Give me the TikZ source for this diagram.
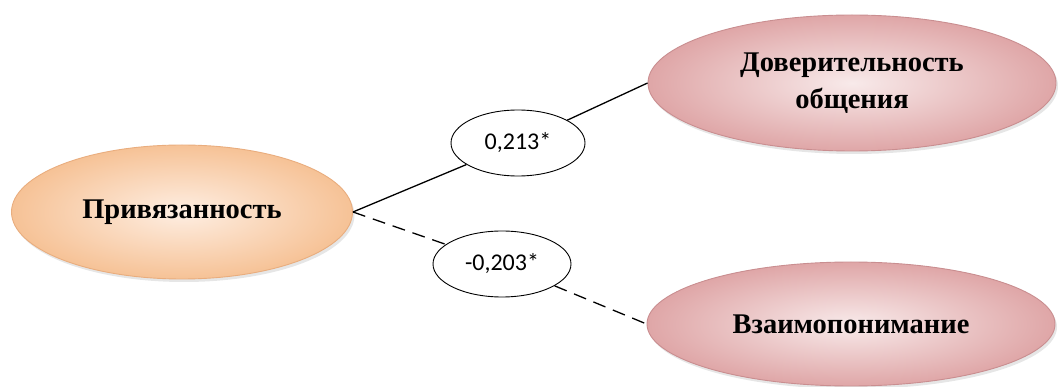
\documentclass[tikz,border=0pt]{standalone}
\usepackage{fontspec}
\setmainfont{Liberation Serif}
\newfontfamily\lblfont{Carlito}
\usetikzlibrary{shapes.geometric,shadows}
\definecolor{orIn}{HTML}{FEEEE2}
\definecolor{orOut}{HTML}{F6C296}
\definecolor{orLine}{HTML}{E9AD7E}
\definecolor{pkIn}{HTML}{F8EAEA}
\definecolor{pkOut}{HTML}{DFA6A7}
\definecolor{pkLine}{HTML}{C98E90}
\tikzset{
  x=1pt, y=-1pt,
  bigell/.style={ellipse, inner sep=0pt, font=\fontsize{28.5}{32}\selectfont\bfseries, align=center,
    drop shadow={shadow xshift=2pt, shadow yshift=-3pt, opacity=0.2}},
  orell/.style={bigell, draw=orLine, line width=0.9pt, inner color=orIn, outer color=orOut},
  pkell/.style={bigell, draw=pkLine, line width=0.9pt, inner color=pkIn, outer color=pkOut},
  lbl/.style={ellipse, draw=black, line width=0.9pt, fill=white, inner sep=0pt,
    minimum width=134pt, minimum height=66pt, font=\lblfont\fontsize{24}{26}\selectfont},
  conn/.style={line width=1.3pt, draw=black},
  dconn/.style={conn, dash pattern=on 13pt off 8pt}
}
\begin{document}
\begin{tikzpicture}
\useasboundingbox (0,0) rectangle (1058,387);
\node[orell, minimum width=341pt, minimum height=134pt] (pr) at (182,212) {Привязанность};
\node[pkell, minimum width=408pt, minimum height=136pt] (dov) at (852,83) {Доверительность\\[5pt]общения};
\node[pkell, minimum width=408pt, minimum height=124pt] (vz) at (851,324) {Взаимопонимание};
\node[lbl] (l1) at (518,143) {0,213*};
\node[lbl, minimum width=138pt] (l2) at (502,264) {-0,203*};
\draw[conn] (pr.east) -- (l1);
\draw[conn] (l1) -- (dov.west);
\draw[dconn] (pr.east) -- (l2);
\draw[dconn] (l2) -- (vz.west);
\end{tikzpicture}
\end{document}
